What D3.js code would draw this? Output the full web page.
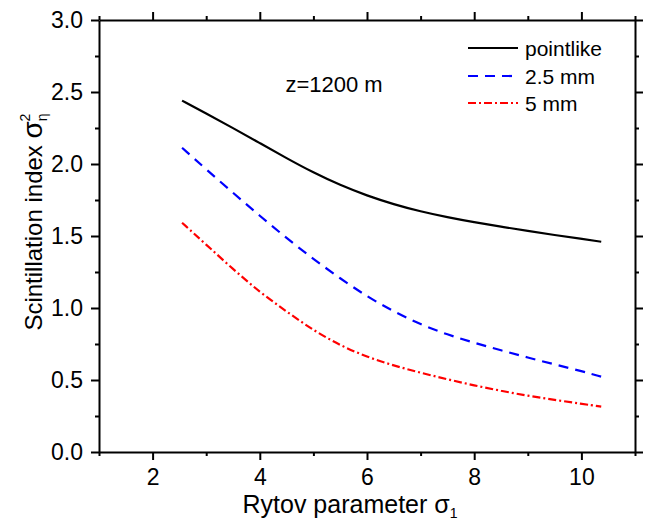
<!DOCTYPE html>
<html><head><meta charset="utf-8">
<script src="https://cdn.jsdelivr.net/npm/d3@7"></script>
<style>body{margin:0;background:#fff}svg{display:block}text{font-family:"Liberation Sans",Arial,sans-serif;fill:#000}</style>
</head><body>
<svg id="c" width="668" height="520"></svg>
<script>
const xValues = [2.55, 3, 3.5, 4, 4.5, 5, 5.5, 6, 6.5, 7, 7.5, 8, 8.5, 9, 9.5, 10, 10.37];
const pointlike = [2.44, 2.35, 2.25, 2.145, 2.04, 1.94, 1.853, 1.78, 1.72, 1.67, 1.63, 1.595, 1.565, 1.535, 1.507, 1.48, 1.46];
const mm25 = [2.113, 1.963, 1.80, 1.64, 1.485, 1.34, 1.205, 1.08, 0.975, 0.885, 0.815, 0.758, 0.706, 0.656, 0.608, 0.562, 0.523];
const mm5 = [1.592, 1.44, 1.27, 1.11, 0.975, 0.845, 0.74, 0.66, 0.60, 0.55, 0.505, 0.462, 0.425, 0.39, 0.362, 0.335, 0.315];
const seriesNames = ["pointlike", "2.5 mm", "5 mm"];
const xTicks = [2, 4, 6, 8, 10];
const xMinor = [1, 3, 5, 7, 9, 11];
const yTicks = [0, 0.5, 1.0, 1.5, 2.0, 2.5, 3.0];
const yMinor = [0.25, 0.75, 1.25, 1.75, 2.25, 2.75];
const annotation = "z=1200 m";

const svg = d3.select("#c");
const L = 99, R = 635, T = 20, B = 452;
const x = d3.scaleLinear().domain([1, 11]).range([L, R]);
const y = d3.scaleLinear().domain([0, 3]).range([B, T]);

function axisDraw(gen, tx, ty, vals, size, fmt, pad) {
  const g = svg.append("g").attr("transform", `translate(${tx},${ty})`)
    .call(gen.tickValues(vals).tickSize(size).tickSizeOuter(0).tickPadding(pad || 6).tickFormat(fmt));
  g.select(".domain").attr("stroke", "#000").attr("stroke-width", 2);
  g.selectAll(".tick line").attr("stroke", "#000").attr("stroke-width", 2);
  g.selectAll("text").style("font-size", "23px").style("font-family", "Liberation Sans, Arial, sans-serif");
  return g;
}
const none = () => "";
// bottom
axisDraw(d3.axisBottom(x), 0, B, xTicks, 8, d => d3.format("d")(d), 9);
axisDraw(d3.axisBottom(x), 0, B, xMinor, 4, none).select(".domain").remove();
// top
axisDraw(d3.axisTop(x), 0, T, xTicks, 8, none);
axisDraw(d3.axisTop(x), 0, T, xMinor, 4, none).select(".domain").remove();
// left
axisDraw(d3.axisLeft(y), L, 0, yTicks, 8, d3.format(".1f"), 8);
axisDraw(d3.axisLeft(y), L, 0, yMinor, 4, none).select(".domain").remove();
// right
axisDraw(d3.axisRight(y), R, 0, yTicks, 8, none);
axisDraw(d3.axisRight(y), R, 0, yMinor, 4, none).select(".domain").remove();

const line = (vals) => d3.line().x((d, i) => x(xValues[i])).y(d => y(d)).curve(d3.curveBasis)(vals);
const styles = [
  {data: pointlike, color: "#000", dash: null},
  {data: mm25, color: "#0000ff", dash: "10,7"},
  {data: mm5, color: "#ff0000", dash: "8,3,2,3"}
];
styles.forEach(s => {
  svg.append("path").attr("d", line(s.data)).attr("fill", "none")
    .attr("stroke", s.color).attr("stroke-width", 2.2)
    .attr("stroke-dasharray", s.dash);
});

// legend
const legY = [48, 76, 103];
styles.forEach((s, i) => {
  svg.append("line").attr("x1", 468).attr("x2", 518).attr("y1", legY[i]).attr("y2", legY[i])
    .attr("stroke", s.color).attr("stroke-width", 2.2).attr("stroke-dasharray", s.dash);
  svg.append("text").attr("x", 525).attr("y", legY[i] + 7.5).style("font-size", "21px").text(seriesNames[i]);
});

svg.append("text").attr("x", 334).attr("y", 92).attr("text-anchor", "middle").style("font-size", "22px").text(annotation);

// x label
const xl = svg.append("text").attr("x", 350).attr("y", 513).attr("text-anchor", "middle").style("font-size", "25px");
xl.append("tspan").text("Rytov parameter σ");
xl.append("tspan").attr("dy", 5).style("font-size", "14px").text("1");

// y label
const yl = svg.append("text").attr("transform", "translate(42,222) rotate(-90)").attr("text-anchor", "middle").style("font-size", "24px");
yl.append("tspan").text("Scintillation index ");
yl.append("tspan").style("font-size", "28px").text("σ");
yl.append("tspan").attr("dy", 5).attr("dx", 0).style("font-size", "14px").text("η");
yl.append("tspan").attr("dy", -17).attr("dx", -8).style("font-size", "14px").text("2");
</script>
</body></html>
